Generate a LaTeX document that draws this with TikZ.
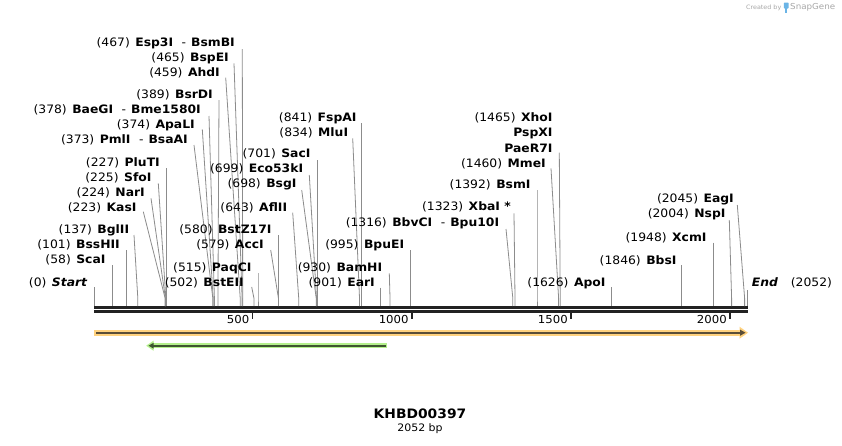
\documentclass[tikz,border=0pt]{standalone}
\usepackage{fontspec}
\setmainfont{DejaVu Sans}[FakeStretch=1.065]
\definecolor{cutgray}{HTML}{8C8C8C}
\definecolor{bbone}{HTML}{222222}
\definecolor{orlight}{HTML}{FFD27F}
\definecolor{ordark}{HTML}{5A4E38}
\definecolor{grlight}{HTML}{B4F08C}
\definecolor{grdark}{HTML}{3E5530}
\definecolor{wmgray}{HTML}{A8A8A8}
\definecolor{wmblue}{HTML}{6AB4E6}
\newcommand{\enz}[8]{%
  \node[lbl] (#1) at (#4,#5+4) {(#2)\hspace{5.5pt}#3};
  \coordinate (#1t) at (#6,#7);
  \coordinate (#1b) at (#8,298);
  \coordinate (#1s) at (#8,306);
  \draw[cutline] (#1t) -- (#1b) -- (#1s);
}
\begin{document}
\begin{tikzpicture}[x=1pt,y=-1pt,
  lbl/.style={anchor=base east, inner sep=0pt, font=\fontsize{11.6}{13.5}\selectfont, text=black},
  cutline/.style={draw=cutgray, line width=0.8pt},
  bbline/.style={draw=bbone, line width=2.7pt},
  tickline/.style={draw=bbone, line width=1.5pt},
  ticklbl/.style={anchor=east, inner sep=0pt, font=\fontsize{11}{13}\selectfont},
]
\useasboundingbox (0,0) rectangle (842,445);
\fill[white] (0,0) rectangle (842,445);

% backbone
\coordinate (bbA1) at (94,307.3);
\coordinate (bbB1) at (747.7,307.3);
\coordinate (bbA2) at (94,311.3);
\coordinate (bbB2) at (747.7,311.3);
\draw[bbline] (bbA1) -- (bbB1);
\draw[bbline] (bbA2) -- (bbB2);

% ticks
\foreach \tx/\tl in {252.5/500, 411.8/1000, 571/1500, 730/2000}{
  \draw[tickline] (\tx,312.5) -- (\tx,319.3);
  \node[ticklbl] at (\tx-3,319.3) {\tl};
}

% enzymes
\enz{Esp}{467}{\textbf{Esp3I}\hspace{8.5pt}-\hspace{5pt}\textbf{BsmBI}}{235}{42}{242.3}{49}{242.7}
\enz{BspE}{465}{\textbf{BspEI}}{229}{57}{234}{63.3}{242.1}
\enz{Ahd}{459}{\textbf{AhdI}}{220}{72}{225.7}{77.7}{240.2}
\enz{BsrD}{389}{\textbf{BsrDI}}{213}{94}{219}{100}{217.9}
\enz{BaeG}{378}{\textbf{BaeGI}\hspace{8.5pt}-\hspace{5pt}\textbf{Bme1580I}}{201}{109}{209}{116}{214.4}
\enz{ApaL}{374}{\textbf{ApaLI}}{195}{124}{202.3}{129.3}{213.2}
\enz{Pml}{373}{\textbf{PmlI}\hspace{8.5pt}-\hspace{5pt}\textbf{BsaAI}}{188}{139}{194}{145}{212.8}
\enz{PluT}{227}{\textbf{PluTI}}{160}{162}{166.4}{168}{166.4}
\enz{Sfo}{225}{\textbf{SfoI}}{151.7}{177}{158.3}{183.3}{165.8}
\enz{Nar}{224}{\textbf{NarI}}{145}{192}{151}{198.3}{165.4}
\enz{Kas}{223}{\textbf{KasI}}{136.7}{207}{143.3}{211.7}{165.1}
\enz{Bgl}{137}{\textbf{BglII}}{129.3}{229}{134}{235}{137.8}
\enz{BssH}{101}{\textbf{BssHII}}{120}{244}{126.3}{250}{126.3}
\enz{Sca}{58}{\textbf{ScaI}}{105.7}{259}{112.6}{265}{112.6}
\enz{Start}{0}{\textbf{\textit{Start}}}{87.7}{282}{94.2}{287}{94.2}
\enz{BstE}{502}{\textbf{BstEII}}{244}{282}{251.7}{287}{253.9}
\enz{PaqC}{515}{\textbf{PaqCI}}{251.7}{267}{258}{273.3}{258}
\enz{Acc}{579}{\textbf{AccI}}{264}{244}{270.7}{250}{278.4}
\enz{BstZ}{580}{\textbf{BstZ17I}}{271.7}{229}{278.7}{235}{278.7}
\enz{Afl}{643}{\textbf{AflII}}{287.3}{207}{292.7}{212.7}{298.7}
\enz{Bsg}{698}{\textbf{BsgI}}{296.7}{183}{301.7}{190}{316.2}
\enz{Eco}{699}{\textbf{Eco53kI}}{303.3}{168}{309.3}{175}{316.5}
\enz{Sac}{701}{\textbf{SacI}}{310.7}{153}{317.2}{160}{317.2}
\enz{Mlu}{834}{\textbf{MluI}}{348.3}{132}{352.7}{138.3}{359.5}
\enz{FspA}{841}{\textbf{FspAI}}{356.7}{117}{361.7}{123.3}{361.7}
\enz{Ear}{901}{\textbf{EarI}}{375}{282}{380.8}{287.7}{380.8}
\enz{BamH}{930}{\textbf{BamHI}}{382.3}{267}{389.3}{273.3}{390}
\enz{BpuE}{995}{\textbf{BpuEI}}{404.3}{244}{410.7}{250}{410.7}
\enz{BbvC}{1316}{\textbf{BbvCI}\hspace{8.5pt}-\hspace{5pt}\textbf{Bpu10I}}{499.3}{222}{506}{229}{512.8}
\enz{Xba}{1323}{\textbf{XbaI *}}{511}{206}{514}{213.3}{515}
\enz{Bsm}{1392}{\textbf{BsmI}}{530.7}{184}{537}{190}{537}
\enz{Mme}{1460}{\textbf{MmeI}}{546}{163}{551}{168.3}{558.6}
\enz{Xho}{1465}{\textbf{XhoI}}{552.7}{117}{559.3}{152.7}{560.2}
\node[lbl] (PspX) at (552.7,136) {\textbf{PspXI}};
\node[lbl] (PaeR) at (552.7,152) {\textbf{PaeR7I}};
\enz{Apo}{1626}{\textbf{ApoI}}{605.7}{282}{611.4}{287}{611.4}
\enz{Bbs}{1846}{\textbf{BbsI}}{676.7}{260}{681.4}{265}{681.4}
\enz{Xcm}{1948}{\textbf{XcmI}}{706.7}{237}{713.8}{242.7}{713.8}
\enz{Nsp}{2004}{\textbf{NspI}}{725.7}{213}{729.3}{220}{731.6}
\enz{Eag}{2045}{\textbf{EagI}}{734}{198}{737.3}{205}{744.6}

% End
\node[lbl, anchor=base west] (Endl) at (751.7,286) {\textbf{\textit{End}}};
\node[lbl, anchor=base west] (Endn) at (790.7,286) {(2052)};
\coordinate (Endt) at (746.9,290);
\coordinate (Ends) at (746.9,306);
\draw[cutline] (Endt) -- (Ends);

% orange feature (forward)
\coordinate (orA) at (94,332.7);
\coordinate (orB) at (740.5,332.7);
\draw[orlight, line width=6pt] (orA) -- (orB);
\fill[orlight] (739.5,326.7) -- (748,332.7) -- (739.5,338.7) -- cycle;
\draw[ordark, line width=1.8pt] ([xshift=2pt]orA) -- (orB);
\fill[ordark] (740,329.6) -- (745.5,332.7) -- (740,335.8) -- cycle;

% green feature (reverse)
\coordinate (grA) at (153,345.7);
\coordinate (grB) at (387.3,345.7);
\draw[grlight, line width=5pt] (grA) -- (grB);
\fill[grlight] (153.5,340.7) -- (146.2,345.7) -- (153.5,350.7) -- cycle;
\draw[grdark, line width=1.8pt] (grA) -- ([xshift=-1.5pt]grB);
\fill[grdark] (153.5,342.8) -- (148.6,345.7) -- (153.5,348.6) -- cycle;

% title
\node[inner sep=0pt, font=\fontsize{13}{16}\selectfont\bfseries] (title) at (420,414) {KHBD00397};
\node[inner sep=0pt, font=\fontsize{10.3}{12}\selectfont] (bp) at (420,429) {2052 bp};

% watermark
\node[anchor=east, inner sep=0pt, font=\fontsize{6}{7}\selectfont, text=wmgray] (wm1) at (781.5,7.5) {Created by};
\fill[wmblue, rounded corners=0.8pt] (783.8,2.5) rectangle (788.6,8.5);
\fill[wmblue] (784.5,8) rectangle (786.6,13);
\node[anchor=west, inner sep=0pt, font=\fontsize{8.2}{10}\selectfont, text=wmgray] (wm2) at (790,7.5) {SnapGene};
\end{tikzpicture}
\end{document}
